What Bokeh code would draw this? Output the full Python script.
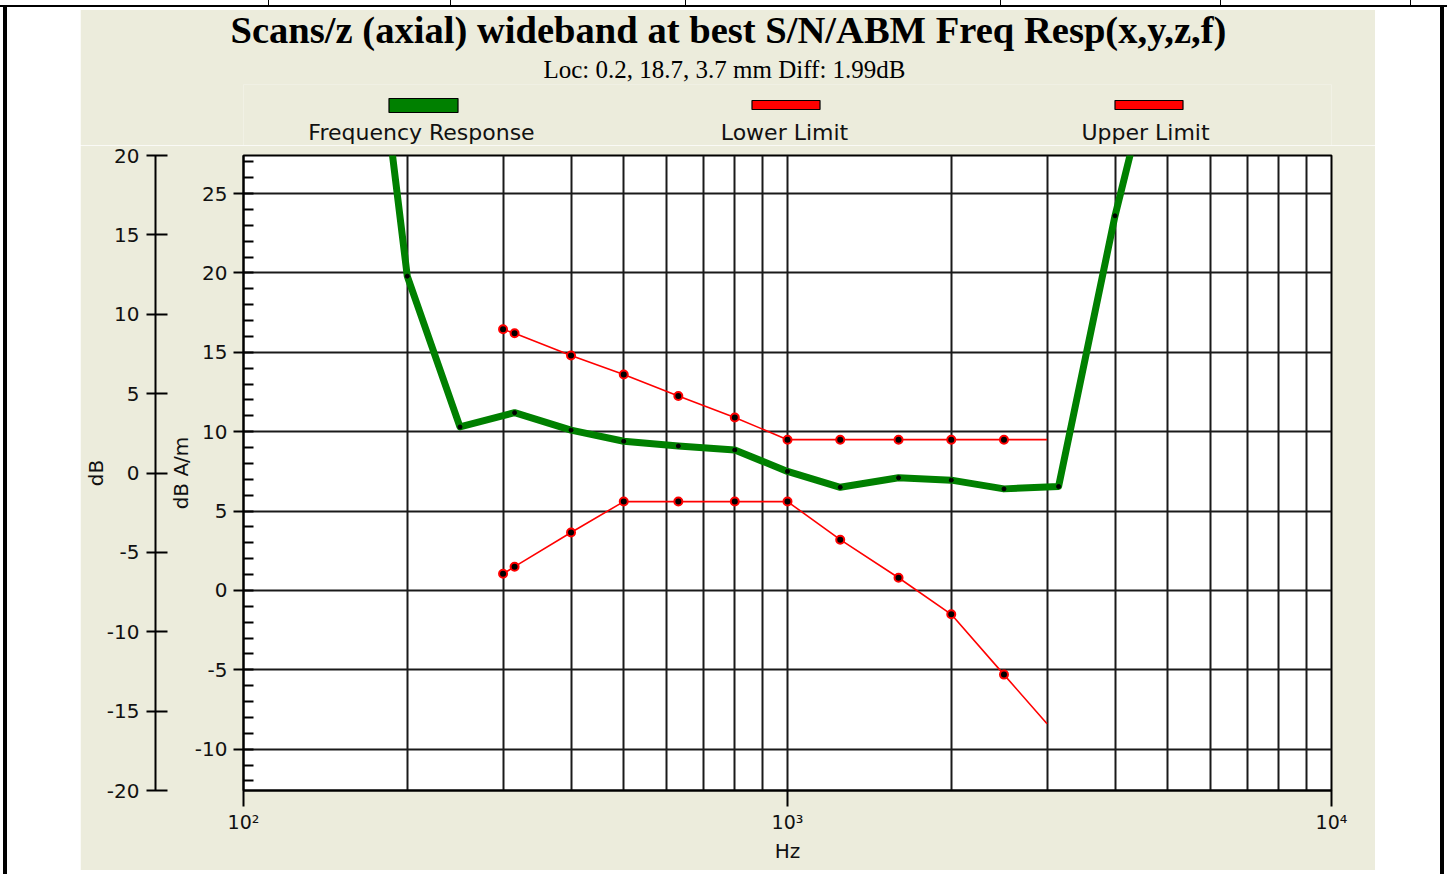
from bokeh.plotting import figure
from bokeh.models import Range1d, LinearAxis, FixedTicker, Title, Div
from bokeh.layouts import column
from bokeh.embed import file_html
from bokeh.resources import INLINE
from bokeh.core.properties import value

# ---------------- data ----------------
title_text = "Scans/z (axial) wideband at best S/N/ABM Freq Resp(x,y,z,f)"
subtitle_text = "Loc: 0.2, 18.7, 3.7 mm Diff: 1.99dB"

legend_names = ["Frequency Response", "Lower Limit", "Upper Limit"]
legend_colors = ["#008000", "#FF0000", "#FF0000"]

resp_hz = [160, 200, 250, 315, 400, 500, 630, 800, 1000, 1250, 1600, 2000, 2500, 3150, 4000, 5000]
resp_db = [47.0, 19.8, 10.3, 11.2, 10.1, 9.4, 9.1, 8.85, 7.5, 6.5, 7.1, 6.95, 6.4, 6.55, 23.6, 37.0]

limit_hz = [300, 315, 400, 500, 630, 800, 1000, 1250, 1600, 2000, 2500, 3000]
upper_db = [16.45, 16.2, 14.8, 13.6, 12.25, 10.9, 9.5, 9.5, 9.5, 9.5, 9.5, 9.5]
lower_db = [1.05, 1.5, 3.65, 5.6, 5.6, 5.6, 5.6, 3.2, 0.8, -1.5, -5.3, -8.4]

x_major = [100, 1000, 10000]
x_minor = [200, 300, 400, 500, 600, 700, 800, 900, 2000, 3000, 4000, 5000, 6000, 7000, 8000, 9000]
x_labels = {100: "10\u00b2", 1000: "10\u00b3", 10000: "10\u2074"}

y_major = [-10, -5, 0, 5, 10, 15, 20, 25]
y_minor = list(range(-12, 28))
db_ticks = [-20, -15, -10, -5, 0, 5, 10, 15, 20]

BEIGE = "#ECECDC"
SANS = "DejaVu Sans"

# ---------------- layout constants (page pixels) ----------------
LEFT, RIGHT = 163, 44          # borders shared by both stacked figures
FIG_W = 1295
PAGE_TOP = 4
SPLIT = 145                    # page y where the header figure ends
FRAME_L, FRAME_R, FRAME_T, FRAME_B = 243, 1331, 155, 790
X_MIN, X_MAX, Y_MIN, Y_MAX = 100, 10000, -12.6, 27.4

# ---------------- header (title, subtitle, legend) ----------------
HDR_TOP = 80
top = figure(width=FIG_W, height=SPLIT - PAGE_TOP,
             x_range=Range1d(FRAME_L, FRAME_R), y_range=Range1d(SPLIT, PAGE_TOP + HDR_TOP),
             output_backend="svg", toolbar_location=None,
             min_border_left=LEFT, min_border_right=RIGHT,
             min_border_top=HDR_TOP, min_border_bottom=0,
             x_axis_location=None, y_axis_location=None,
             background_fill_color=BEIGE, border_fill_color=BEIGE, outline_line_color=None)
top.grid.visible = False

sub = Title(text=subtitle_text, align="left", offset=300, standoff=4,
            text_font="Liberation Serif", text_font_size="25px",
            text_font_style="normal", text_color="black")
top.add_layout(sub, "above")
ttl = Title(text=title_text, align="left", offset=-13, standoff=1,
            text_font="Liberation Serif", text_font_size="38.6px",
            text_font_style="bold", text_color="black")
top.add_layout(ttl, "above")

leg_px = [423, 785.5, 1148.5]
top.rect(x=leg_px, y=[105, 104.5, 104.5], width=[69, 68, 68], height=[14, 9, 9],
         fill_color=legend_colors, line_color="black", line_width=1.2)
top.text(x=[421, 784, 1145], y=[132.3, 132.3, 132.3], text=legend_names, text_font=value(SANS),
         text_font_size="22px", text_align="center", text_baseline="middle",
         text_color="#111111")

# ---------------- main plot ----------------
p = figure(width=FIG_W, height=(FRAME_T - SPLIT) + (FRAME_B - FRAME_T) + 80, x_axis_type="log",
           x_range=Range1d(X_MIN, X_MAX), y_range=Range1d(Y_MIN, Y_MAX),
           output_backend="svg", toolbar_location=None,
           min_border_left=LEFT, min_border_right=RIGHT,
           min_border_top=FRAME_T - SPLIT, min_border_bottom=80,
           background_fill_color="white", border_fill_color=BEIGE,
           outline_line_color="black", outline_line_width=2)
p.extra_y_ranges = {"db": Range1d(-20, 20)}

# x axis
xa = p.xaxis[0]
xa.ticker = FixedTicker(ticks=x_major, minor_ticks=x_minor)
xa.major_label_overrides = x_labels
xa.axis_label = "Hz"
xa.major_tick_out = 16
xa.major_tick_in = 0
xa.minor_tick_out = 0
xa.minor_tick_in = 0
xa.major_label_standoff = 4
xa.axis_label_standoff = 3

# main y axis (dB A/m)
ya = p.yaxis[0]
ya.ticker = FixedTicker(ticks=y_major, minor_ticks=y_minor)
ya.major_label_overrides = {t: str(t) for t in y_major}
ya.axis_label = "dB A/m"
ya.major_tick_out = 10
ya.major_tick_in = 0
ya.minor_tick_out = 0
ya.minor_tick_in = 10
ya.major_label_standoff = 6
ya.axis_label_standoff = -1

# spacer axis (blank label only, widens the gap before the dB axis)
spacer = LinearAxis(y_range_name="db", ticker=FixedTicker(ticks=[]),
                    axis_line_color=None, major_tick_line_color=None,
                    minor_tick_line_color=None, major_tick_out=0, major_tick_in=0,
                    minor_tick_out=0, minor_tick_in=0, major_label_standoff=0,
                    axis_label="\u00a0", axis_label_text_font_size="6.3px",
                    axis_label_text_color=BEIGE, axis_label_standoff=0)
p.add_layout(spacer, "left")

# second y axis (dB)
dba = LinearAxis(y_range_name="db", ticker=FixedTicker(ticks=db_ticks, minor_ticks=[]),
                 axis_label="dB")
dba.major_label_overrides = {t: str(t) for t in db_ticks}
dba.major_tick_out = 9
dba.major_tick_in = 12
dba.minor_tick_out = 0
dba.minor_tick_in = 0
dba.major_label_standoff = 7
dba.axis_label_standoff = -4
p.add_layout(dba, "left")

for ax in [xa, ya, dba]:
    ax.axis_line_color = "black"
    ax.axis_line_width = 2
    ax.major_tick_line_color = "black"
    ax.major_tick_line_width = 2
    ax.minor_tick_line_color = "black"
    ax.minor_tick_line_width = 2
    ax.major_label_text_font = SANS
    ax.major_label_text_color = "#111111"
    ax.axis_label_text_font = SANS
    ax.axis_label_text_font_style = "normal"
    ax.axis_label_text_font_size = "20px"
    ax.axis_label_text_color = "#111111"
xa.major_label_text_font_size = "19px"
ya.major_label_text_font_size = "20px"
dba.major_label_text_font_size = "20px"

# grid
p.xgrid.grid_line_color = "#1a1a1a"
p.xgrid.grid_line_width = 2
p.xgrid.minor_grid_line_color = "#1a1a1a"
p.xgrid.minor_grid_line_width = 2
p.ygrid.grid_line_color = "#1a1a1a"
p.ygrid.grid_line_width = 2
p.ygrid.minor_grid_line_color = None

# limits
p.line(limit_hz, upper_db, line_color="#FF0000", line_width=1.6)
p.line(limit_hz, lower_db, line_color="#FF0000", line_width=1.6)
p.scatter(limit_hz[:-1], upper_db[:-1], size=8, fill_color="black", line_color="#FF0000", line_width=2)
p.scatter(limit_hz[:-1], lower_db[:-1], size=8, fill_color="black", line_color="#FF0000", line_width=2)

# frequency response
p.line(resp_hz, resp_db, line_color="#008000", line_width=7, line_join="round")
p.scatter(resp_hz, resp_db, size=4, fill_color="black", line_color="black")

layout = column(top, p, margin=(PAGE_TOP, 0, 0, 80))

# page frame (the black rules around the captured page)
def bar(l, t, w, h, c="#000"):
    return ('<div style="position:fixed;left:%dpx;top:%dpx;width:%dpx;height:%dpx;'
            'background:%s;pointer-events:none"></div>' % (l, t, w, h, c))

frame_html = (bar(0, 0, 1447, 10, "#fff") + bar(0, 5, 1447, 2) +
              bar(3, 5, 4, 869) + bar(1440, 5, 4, 869) +
              "".join(bar(x, 0, 1, 6) for x in [268, 450, 685, 1000, 1220, 1410]))
overlay = Div(text=frame_html, width=1, height=1)

open("out.html", "w").write(file_html([layout, overlay], INLINE))
